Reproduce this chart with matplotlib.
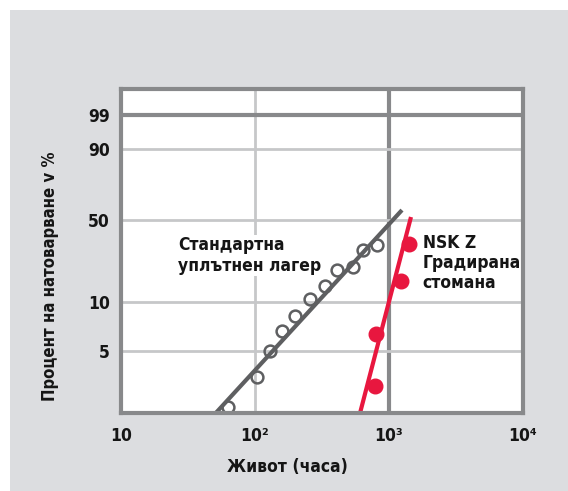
import numpy as np
import matplotlib
matplotlib.use('Agg')
import matplotlib.pyplot as plt
from matplotlib.patches import Rectangle

plt.rcParams['font.family'] = ['DejaVu Sans']
plt.rcParams['font.stretch'] = 'condensed'

# data (life in hours, cumulative failure in %)
std_life = [63, 103, 129, 158, 199, 257, 333, 411, 542, 643, 809]
std_pct = [2.2, 3.4, 5.0, 6.7, 8.2, 10.7, 14.1, 19.7, 21.0, 29.3, 32.2]
std_fit_life = [51, 1250]
std_fit_pct = [2.0, 55.8]

nsk_life = [786, 800, 1229, 1416]
nsk_pct = [3.0, 6.4, 15.7, 32.6]
nsk_fit_life = [608, 1459]
nsk_fit_pct = [2.0, 51.6]

x_ticks = [10, 100, 1000, 10000]
x_ticklabels = ['10', '10²', '10³', '10⁴']
y_ticks = [5, 10, 50, 90, 99]

# probability paper: weibull transform, stretched to match the printed grid
knot_pct = np.array([2, 5, 10, 50, 90, 99, 99.9])
knot_pos = np.array([0, 61.7, 111, 193.3, 264, 298, 324]) / 324


def weib(p):
    p = np.clip(np.asarray(p, dtype=float), 1e-6, 99.99999)
    return np.log(-np.log(1 - p / 100))


knot_w = weib(knot_pct)


def fwd(p):
    return np.interp(weib(p), knot_w, knot_pos)


def inv(v):
    w = np.interp(v, knot_pos, knot_w)
    return 100 * (1 - np.exp(-np.exp(w)))


frame = '#88898b'
light = '#c6c7c9'
dark_line = '#5e5f61'
red = '#e8173f'
txt = '#151515'

fig = plt.figure(figsize=(5.68, 4.91), dpi=100)
fig.patches.append(Rectangle((10 / 568, 0), 1, 481 / 491, transform=fig.transFigure,
                             facecolor='#dcdde0', edgecolor='none', zorder=-10))
ax = fig.add_axes([121 / 568, 78 / 491, 402 / 568, 324 / 491])
ax.set_facecolor('white')

ax.set_xscale('log')
ax.set_yscale('function', functions=(fwd, inv))
ax.set_xlim(10, 10000)
ax.set_ylim(2, 99.9)

# grid
ax.axvline(100, color=light, lw=2, zorder=1)
ax.axvline(1000, color=frame, lw=3, zorder=1)
for v in y_ticks:
    if v == 99:
        ax.axhline(v, color=frame, lw=3, zorder=1)
    else:
        ax.axhline(v, color=light, lw=2, zorder=1)

# fitted lines and test points
ax.plot(std_fit_life, std_fit_pct, color=dark_line, lw=3, solid_capstyle='butt', zorder=3)
ax.plot(std_life, std_pct, 'o', ms=8.5, mfc='none', mec=dark_line, mew=1.8, zorder=4)
ax.plot(nsk_fit_life, nsk_fit_pct, color=red, lw=3, solid_capstyle='butt', zorder=3)
ax.plot(nsk_life, nsk_pct, 'o', ms=10.5, color=red, zorder=4)

ax.text(0.142, 0.545, 'Стандартна\nуплътнен лагер', transform=ax.transAxes,
        ha='left', va='top', fontsize=12.5, fontweight='bold', linespacing=1.15,
        color=txt, bbox=dict(facecolor='white', edgecolor='none', pad=1), zorder=2)
ax.text(0.7505, 0.553, 'NSK Z\nГрадирана\nстомана', transform=ax.transAxes,
        ha='left', va='top', fontsize=12.5, fontweight='bold', linespacing=1.15,
        color=txt, zorder=2)

ax.set_xticks(x_ticks)
ax.set_xticklabels(x_ticklabels)
ax.xaxis.set_minor_locator(plt.NullLocator())
ax.set_yticks(y_ticks)
ax.set_yticklabels([str(v) for v in y_ticks])
ax.yaxis.set_minor_locator(plt.NullLocator())
ax.tick_params(length=0, labelsize=12.5, labelcolor=txt)
ax.tick_params(axis='x', pad=10)
ax.tick_params(axis='y', pad=8)
for lab in ax.get_xticklabels() + ax.get_yticklabels():
    lab.set_fontweight('bold')

for s in ax.spines.values():
    s.set_color(frame)
    s.set_linewidth(3)
    s.set_zorder(5)

fig.text(287 / 568, 24 / 491, 'Живот (часа)', ha='center', va='center',
         fontsize=12.5, fontweight='bold', color=txt)
fig.text(50 / 568, 215 / 491, 'Процент на натоварване v %', ha='center', va='center',
         rotation=90, fontsize=12, fontweight='bold', color=txt)

fig.savefig('out.png', dpi=100)
